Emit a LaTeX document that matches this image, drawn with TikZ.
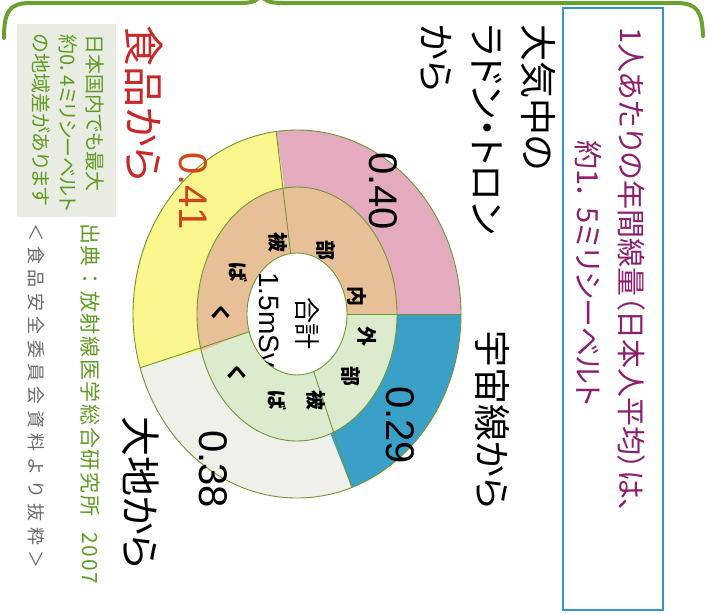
\documentclass[tikz,border=0pt]{standalone}
\usepackage{fontspec}
\setmainfont{Liberation Sans}
\newfontfamily\jp[RawFeature=+palt]{Noto Sans CJK JP}
\newfontfamily\jpsp[LetterSpace=30]{Noto Sans CJK JP}
\newfontfamily\jpsrc[LetterSpace=8]{Noto Sans CJK JP}
\usetikzlibrary{calc}
\definecolor{bracegreen}{RGB}{108,160,48}
\definecolor{notegreen}{RGB}{96,156,36}
\definecolor{notebg}{RGB}{232,236,226}
\definecolor{purpletext}{RGB}{140,30,110}
\definecolor{boxblue}{RGB}{50,150,200}
\definecolor{foodred}{RGB}{200,40,40}
\definecolor{numred}{RGB}{205,70,30}
\definecolor{graytext}{RGB}{105,105,105}
\definecolor{radonpink}{RGB}{228,170,190}
\definecolor{cosmicblue}{RGB}{58,160,200}
\definecolor{foodyellow}{RGB}{250,245,140}
\definecolor{groundwhite}{RGB}{238,240,233}
\definecolor{innertan}{RGB}{232,192,152}
\definecolor{outergreen}{RGB}{220,235,205}
\definecolor{edgegreen}{RGB}{112,150,50}
\newcommand\ringsector[7]{%
  \fill[#1] ($(C)+(#2:#6 and #7)$) arc[start angle=#2,end angle=#3,x radius=#6,y radius=#7]
    -- ($(C)+(#3:#4 and #5)$) arc[start angle=#3,end angle=#2,x radius=#4,y radius=#5] -- cycle;}
\begin{document}
\begin{tikzpicture}[x=1pt,y=1pt,
  vtext/.style={rotate=-90,anchor=west,inner sep=0pt},
  biglab/.style={vtext,font=\jp\fontsize{37}{40}\selectfont},
  num/.style={rotate=-90,inner sep=0pt,font=\fontsize{40}{44}\selectfont},
  ringch/.style={rotate=-90,inner sep=0pt,font=\jp\bfseries\fontsize{20}{22}\selectfont},
  edge/.style={draw=edgegreen,line width=0.9pt},
  bracepath/.style={draw=bracegreen,line width=4pt,line cap=round}]
\useasboundingbox (0,0) rectangle (708,-613);
\fill[white] (0,0) rectangle (708,-613);
% brace at top
\draw[bracepath] (4,-38) .. controls (4,-12) and (9,-3) .. (30,-3) -- (240,-3)
  .. controls (252,-3) and (258,-1) .. (260,5);
\draw[bracepath] (262,5) .. controls (264,-1) and (270,-3) .. (282,-3) -- (676,-3)
  .. controls (698,-3) and (702,-12) .. (703,-36);
% title box
\draw[draw=boxblue,line width=1.6pt] (563,-8) rectangle (663,-610);
\node[vtext,text=purpletext,font=\jp\fontsize{29}{31}\selectfont] (t1) at (632,-27) {1人あたりの年間線量（日本人平均）は、};
\node[vtext,text=purpletext,font=\jp\fontsize{29}{31}\selectfont] (t2) at (588,-140) {約1．\hspace{8pt}5ミリシーベルト};
% big labels
\node[biglab] (r1) at (538,-24) {大気中の};
\node[biglab] (r2) at (487,-24) {ラドン・トロン};
\node[biglab] (r3) at (436,-24) {から};
\node[biglab] (cos) at (493,-330) {宇宙線から};
\node[biglab,font=\jp\fontsize{40}{42}\selectfont] (gnd) at (141,-416) {大地から};
\node[biglab,text=foodred,font=\jp\fontsize{41}{44}\selectfont] (food) at (144,-25) {食品から};
% note box
\fill[notebg] (17,-24) rectangle (116,-217);
\node[vtext,text=notegreen,font=\jp\fontsize{20}{22}\selectfont] (nt1) at (95,-34) {日本国内でも最大};
\node[vtext,text=notegreen,font=\jp\fontsize{20}{22}\selectfont] (nt2) at (68,-34) {約0．4ミリシーベルト};
\node[vtext,text=notegreen,font=\jp\fontsize{20}{22}\selectfont] (nt3) at (41,-34) {の地域差があります};
% sources
\node[vtext,text=notegreen,font=\jpsrc\fontsize{21}{23}\selectfont] (src) at (90,-223) {出典：放射線医学総合研究所\hspace{16pt}2007};
\node[vtext,text=graytext,font=\jpsp\fontsize{18}{20}\selectfont] (ext) at (36,-223) {＜食品安全委員会資料より抜粋＞};
% chart
\coordinate (C) at (297,-314);
\ringsector{radonpink}{0}{97.3}{100pt}{127pt}{164pt}{184pt}
\ringsector{foodyellow}{97.3}{197}{100pt}{127pt}{164pt}{184pt}
\ringsector{groundwhite}{197}{289.5}{100pt}{127pt}{164pt}{184pt}
\ringsector{cosmicblue}{289.5}{360}{100pt}{127pt}{164pt}{184pt}
\ringsector{innertan}{0}{197}{50pt}{61pt}{100pt}{127pt}
\ringsector{outergreen}{197}{360}{50pt}{61pt}{100pt}{127pt}
\fill[white] (C) ellipse[x radius=50pt,y radius=61pt];
\draw[edge] (C) ellipse[x radius=164pt,y radius=184pt];
\draw[edge] (C) ellipse[x radius=100pt,y radius=127pt];
\draw[edge] (C) ellipse[x radius=50pt,y radius=61pt];
\foreach \a in {0,97.3,197,289.5}
  \draw[edge] ($(C)+(\a:50pt and 61pt)$) -- ($(C)+(\a:164pt and 184pt)$);
% numbers
\node[num] (v40) at (383,-191) {0.40};
\node[num] (v29) at (400,-425) {0.29};
\node[num] (v38) at (213,-469) {0.38};
\node[num,text=numred] (v41) at (193,-191) {0.41};
% ring characters
\node[ringch] (i1) at (357,-296) {内};
\node[ringch] (i2) at (326,-250) {部};
\node[ringch] (i3) at (278,-242) {被};
\node[ringch] (i4) at (238,-272) {ば};
\node[ringch] (i5) at (221,-313) {く};
\node[ringch] (o1) at (367,-336) {外};
\node[ringch] (o2) at (351,-376) {部};
\node[ringch] (o3) at (316,-400) {被};
\node[ringch] (o4) at (277,-400) {ば};
\node[ringch] (o5) at (237,-373) {く};
% centre
\begin{scope}
\clip (C) ellipse[x radius=50pt,y radius=61pt];
\node[ringch,font=\jp\fontsize{26}{28}\selectfont] (tot) at (307,-323) {合計};
\node[vtext,font=\fontsize{28}{30}\selectfont] (sv) at (269,-272) {1.5mSv};
\end{scope}
\end{tikzpicture}
\end{document}
